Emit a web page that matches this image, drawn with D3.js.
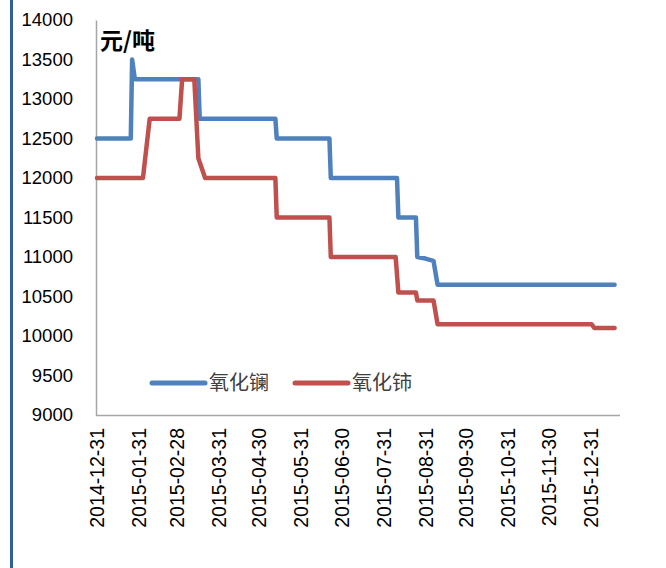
<!DOCTYPE html>
<html><head><meta charset="utf-8">
<script src="https://cdn.jsdelivr.net/npm/d3@7/dist/d3.min.js"></script>
<style>body{margin:0;background:#fff}svg{display:block}</style>
</head><body>
<svg id="c" width="666" height="568"></svg>
<script>
const seriesNames = ["氧化镧", "氧化铈"];
const seriesColors = ["#4f81bd", "#c0504d"];
const lanthanumDates = ["2014-12-31","2015-01-25","2015-01-26","2015-01-28","2015-03-16","2015-03-17","2015-05-12","2015-05-13","2015-06-21","2015-06-22","2015-08-10","2015-08-11","2015-08-24","2015-08-25","2015-08-31","2015-09-06","2015-09-09","2016-01-18"];
const lanthanumValues = [12500,12500,13500,13250,13250,12750,12750,12500,12500,12000,12000,11500,11500,11000,10980,10950,10650,10650];
const ceriumDates = ["2014-12-31","2015-02-03","2015-02-08","2015-03-02","2015-03-04","2015-03-13","2015-03-16","2015-03-21","2015-05-12","2015-05-13","2015-06-21","2015-06-22","2015-08-09","2015-08-11","2015-08-24","2015-08-25","2015-09-06","2015-09-09","2016-01-01","2016-01-03","2016-01-18"];
const ceriumValues = [12000,12000,12750,12750,13250,13250,12250,12000,12000,11500,11500,11000,11000,10550,10550,10450,10450,10150,10150,10100,10100];
const xTickLabels = ["2014-12-31","2015-01-31","2015-02-28","2015-03-31","2015-04-30","2015-05-31","2015-06-30","2015-07-31","2015-08-31","2015-09-30","2015-10-31","2015-11-30","2015-12-31"];
const yTicks = [9000,9500,10000,10500,11000,11500,12000,12500,13000,13500,14000];
const unitLabel = "元/吨";

const parse = d3.timeParse("%Y-%m-%d");
const svg = d3.select("#c");

// left decorative bar
svg.append("rect").attr("x",10).attr("y",0).attr("width",3).attr("height",568).attr("fill","#2f5f9f");

const x = d3.scaleTime().domain([parse("2014-12-31"), parse("2016-01-22")]).range([97, 620]);
const y = d3.scaleLinear().domain([9000, 14000]).range([415, 20]);

// axes
const yAxis = svg.append("g").attr("transform","translate(96,0)")
  .call(d3.axisLeft(y).tickValues(yTicks).tickSize(0).tickPadding(23).tickFormat(d3.format("d")));
yAxis.select(".domain").attr("stroke","#a6a6a6").attr("stroke-width",1.5);
yAxis.selectAll("text").attr("font-family","'Liberation Sans', Arial, sans-serif").attr("font-size",18.5).attr("fill","#000");

const xAxis = svg.append("g").attr("transform","translate(0,415)")
  .call(d3.axisBottom(x).tickValues(xTickLabels.map(parse)).tickSize(0).tickSizeOuter(0).tickFormat(d3.timeFormat("%Y-%m-%d")));
xAxis.select(".domain").attr("stroke","#a6a6a6").attr("stroke-width",1.5).attr("d","M96,0.5H620");
xAxis.selectAll("text")
  .attr("font-family","'Liberation Sans', Arial, sans-serif").attr("font-size",19.5).attr("fill","#000")
  .attr("transform","rotate(-90)").attr("text-anchor","end").attr("dy","0.35em").attr("x",-13).attr("y",0);

// lines
const line = d3.line().x(d => x(d[0])).y(d => y(d[1]));
const seriesData = [
  lanthanumDates.map((d,i) => [parse(d), lanthanumValues[i]]),
  ceriumDates.map((d,i) => [parse(d), ceriumValues[i]])
];
[0,1].forEach(i => {
  svg.append("path").datum(seriesData[i]).attr("d", line)
    .attr("fill","none").attr("stroke",seriesColors[i]).attr("stroke-width",4.5)
    .attr("stroke-linejoin","round").attr("stroke-linecap","round");
});

// unit label
svg.append("text").attr("x",100).attr("y",49).text(unitLabel)
  .attr("font-family","'Noto Sans CJK SC', sans-serif").attr("font-weight","bold").attr("font-size",23).attr("fill","#000");

// legend
const legendX = [152, 295];
seriesNames.forEach((n,i) => {
  svg.append("line").attr("x1",legendX[i]).attr("x2",legendX[i]+53).attr("y1",383).attr("y2",383)
    .attr("stroke",seriesColors[i]).attr("stroke-width",5).attr("stroke-linecap","round");
  svg.append("text").attr("x",legendX[i]+57).attr("y",390).text(n)
    .attr("font-family","'Noto Sans CJK SC', sans-serif").attr("font-size",20).attr("fill","#404040");
});
</script>
</body></html>
